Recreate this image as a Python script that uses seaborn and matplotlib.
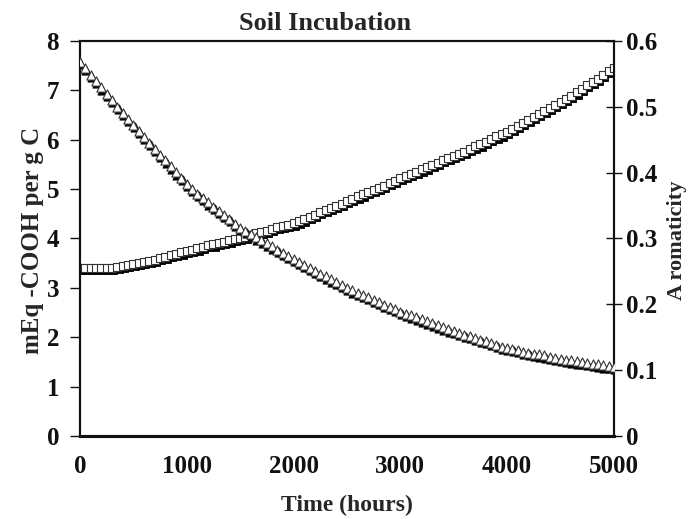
import matplotlib
matplotlib.use("Agg")
import matplotlib.pyplot as plt
import matplotlib.transforms as mtransforms
import pandas as pd
import seaborn as sns

# time axis (hours), one reading every 50 h
time_hours = list(range(0, 5001, 50))

# mEq -COOH per g C (left axis, triangles)
cooh = [
    7.58, 7.45, 7.32, 7.19, 7.06, 6.93, 6.80, 6.67, 6.55, 6.42, 6.30,
    6.18, 6.06, 5.94, 5.82, 5.70, 5.58, 5.46, 5.34, 5.22, 5.10,
    5.00, 4.91, 4.82, 4.73, 4.64, 4.56, 4.47, 4.39, 4.30, 4.22,
    4.15, 4.09, 4.02, 3.96, 3.90, 3.84, 3.77, 3.71, 3.64, 3.58,
    3.52, 3.46, 3.40, 3.35, 3.29, 3.23, 3.17, 3.12, 3.06, 3.00,
    2.95, 2.90, 2.86, 2.81, 2.76, 2.71, 2.66, 2.62, 2.57, 2.52,
    2.48, 2.44, 2.40, 2.36, 2.32, 2.28, 2.24, 2.20, 2.16, 2.12,
    2.09, 2.05, 2.02, 1.98, 1.95, 1.92, 1.88, 1.85, 1.81, 1.78,
    1.76, 1.74, 1.71, 1.69, 1.67, 1.65, 1.63, 1.60, 1.58, 1.56,
    1.54, 1.53, 1.51, 1.50, 1.48, 1.46, 1.45, 1.43, 1.42, 1.40,
]

# aromaticity (right axis, squares)
aromaticity = [
    0.255, 0.255, 0.255, 0.255, 0.255, 0.255, 0.255,
    0.257, 0.258, 0.260, 0.261, 0.263, 0.264, 0.266, 0.268, 0.270, 0.272, 0.275, 0.277, 0.279, 0.281,
    0.283, 0.285, 0.287, 0.290, 0.291, 0.293, 0.295, 0.297, 0.299, 0.301,
    0.303, 0.305, 0.308, 0.310, 0.312, 0.314, 0.317, 0.319, 0.321, 0.323,
    0.326, 0.329, 0.333, 0.336, 0.340, 0.343, 0.347, 0.350, 0.353, 0.357,
    0.360, 0.364, 0.367, 0.371, 0.374, 0.377, 0.380, 0.384, 0.388, 0.392,
    0.395, 0.398, 0.401, 0.405, 0.408, 0.412, 0.415, 0.419, 0.422, 0.425,
    0.429, 0.432, 0.436, 0.440, 0.443, 0.447, 0.451, 0.455, 0.458, 0.462,
    0.467, 0.471, 0.476, 0.480, 0.485, 0.489, 0.494, 0.498, 0.503, 0.507,
    0.512, 0.517, 0.522, 0.527, 0.533, 0.538, 0.543, 0.548, 0.554, 0.559,
]

left_ticks = [0, 1, 2, 3, 4, 5, 6, 7, 8]
right_ticks = [0, 0.1, 0.2, 0.3, 0.4, 0.5, 0.6]
right_labels = ["0", "0.1", "0.2", "0.3", "0.4", "0.5", "0.6"]
x_ticks = [0, 1000, 2000, 3000, 4000, 5000]


def font(size):
    return dict(family="Liberation Serif", size=size, weight="bold")


def main():
    df = pd.DataFrame({"time": time_hours, "cooh": cooh, "arom": aromaticity})

    sns.set_style("white")
    plt.rcParams["font.family"] = ["Liberation Serif", "DejaVu Serif"]
    plt.rcParams["font.weight"] = "bold"

    fig = plt.figure(figsize=(6.89, 5.19), dpi=100)
    ax = fig.add_axes([0.116, 0.160, 0.775, 0.761])
    ax2 = ax.twinx()
    # triangles drawn above the squares
    ax.set_zorder(ax2.get_zorder() + 1)
    ax.patch.set_visible(False)

    # dark "shadow" markers sit a touch below/right of the open ones
    shadow = mtransforms.ScaledTranslation(0.012, -0.022, fig.dpi_scale_trans)

    sns.scatterplot(data=df, x="time", y="cooh", ax=ax, marker="^", s=44,
                    color="black", edgecolor="black", linewidth=0.6,
                    transform=ax.transData + shadow, zorder=2)
    sns.scatterplot(data=df, x="time", y="cooh", ax=ax, marker="^", s=44,
                    color="white", edgecolor="#333333", linewidth=0.8, zorder=3)

    sns.scatterplot(data=df, x="time", y="arom", ax=ax2, marker="s", s=30,
                    color="black", edgecolor="black", linewidth=0.6,
                    transform=ax2.transData + shadow, zorder=2)
    sns.scatterplot(data=df, x="time", y="arom", ax=ax2, marker="s", s=30,
                    color="white", edgecolor="#333333", linewidth=0.8, zorder=3)

    ax.set_xlim(0, 5000)
    ax.set_ylim(0, 8)
    ax2.set_ylim(0, 0.6)

    ax.set_xticks(x_ticks)
    ax.set_xticklabels([str(t) for t in x_ticks], fontdict=font(18))
    ax.set_yticks(left_ticks)
    ax.set_yticklabels([str(t) for t in left_ticks], fontdict=font(18))
    ax2.set_yticks(right_ticks)
    ax2.set_yticklabels(right_labels, fontdict=font(18))

    ax.tick_params(axis="x", direction="out", length=5, width=1, pad=9, colors="#111111")
    ax.tick_params(axis="y", direction="out", length=7, width=1, pad=8, colors="#111111")
    ax2.tick_params(axis="y", direction="inout", length=12, width=1, pad=3, colors="#111111")

    for a in (ax, ax2):
        for side, sp in a.spines.items():
            sp.set_visible(True)
            sp.set_color("#111111")
            sp.set_linewidth(1.5)
        a.spines["bottom"].set_linewidth(2.2)

    ax.set_xlabel("Time (hours)", fontdict=font(17))
    ax.xaxis.set_label_coords(0.5, -0.175)
    ax.xaxis.label.set_verticalalignment("center")

    ax.set_ylabel("mEq -COOH per g C", fontdict=font(18))
    ax.yaxis.set_label_coords(-0.088, 0.496)
    ax.yaxis.label.set_verticalalignment("center")

    ax2.set_ylabel("A romaticity", fontdict=font(16))
    ax2.yaxis.set_label_coords(1.118, 0.496)
    ax2.yaxis.label.set_verticalalignment("center")

    ax.set_title("Soil Incubation", fontdict=font(19), x=0.459, pad=8)

    fig.savefig("out.png", dpi=100)


if __name__ == "__main__":
    main()
